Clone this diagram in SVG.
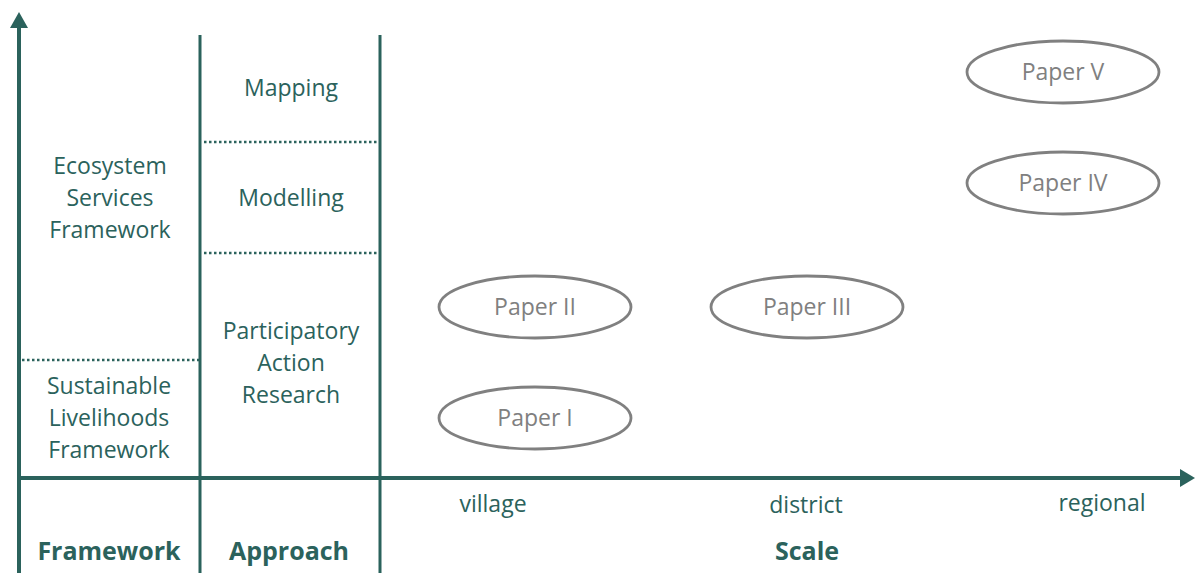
<svg xmlns="http://www.w3.org/2000/svg" width="1195" height="573" viewBox="0 0 1195 573">
<defs>
<style>
.t{font-family:"Open Sans","Liberation Sans",sans-serif;font-size:23px;fill:#2b625c;text-anchor:middle}
.b{font-family:"Open Sans","Liberation Sans",sans-serif;font-size:25px;font-weight:bold;fill:#2b625c;text-anchor:middle}
.p{font-family:"Open Sans","Liberation Sans",sans-serif;font-size:23px;fill:#808080;text-anchor:middle}
.e{fill:none;stroke:#808080;stroke-width:2.8}
.ax{stroke:#2b625c;stroke-width:4;fill:none}
.v{stroke:#2b625c;stroke-width:3;fill:none}
.d{stroke:#2b625c;stroke-width:2.5;stroke-dasharray:2.5 2.5;fill:none}
</style>
</defs>
<rect width="1195" height="573" fill="#ffffff"/>
<g id="connectors">
<line class="ax" x1="19" y1="26" x2="19" y2="573"/>
<polygon points="19,12 10,28 28,28" fill="#2b625c"/>
<line class="ax" x1="19" y1="478" x2="1182" y2="478"/>
<polygon points="1195,478 1180,469 1180,487" fill="#2b625c"/>
<line class="v" x1="200" y1="35" x2="200" y2="573"/>
<line class="v" x1="380" y1="35" x2="380" y2="573"/>
<line class="d" x1="204" y1="142" x2="380" y2="142"/>
<line class="d" x1="204" y1="253" x2="380" y2="253"/>
<line class="d" x1="22" y1="360" x2="200" y2="360"/>
</g>
<g id="framework">
<text class="t" x="110" y="174">Ecosystem</text>
<text class="t" x="110" y="206">Services</text>
<text class="t" x="110" y="238">Framework</text>
<text class="t" x="109" y="394">Sustainable</text>
<text class="t" x="109" y="426">Livelihoods</text>
<text class="t" x="109" y="458">Framework</text>
<text class="b" x="109" y="560">Framework</text>
</g>
<g id="approach">
<text class="t" x="291" y="96">Mapping</text>
<text class="t" x="291" y="206">Modelling</text>
<text class="t" x="291" y="339">Participatory</text>
<text class="t" x="291" y="371">Action</text>
<text class="t" x="291" y="403">Research</text>
<text class="b" x="289" y="560">Approach</text>
</g>
<g id="scale">
<text class="t" x="493" y="512">village</text>
<text class="t" x="806" y="513">district</text>
<text class="t" x="1102" y="511">regional</text>
<text class="b" x="807" y="560">Scale</text>
</g>
<g id="paper5"><ellipse class="e" cx="1063" cy="72" rx="96" ry="31"/><text class="p" x="1063" y="80">Paper V</text></g>
<g id="paper4"><ellipse class="e" cx="1063" cy="183" rx="96" ry="31"/><text class="p" x="1063" y="191">Paper IV</text></g>
<g id="paper2"><ellipse class="e" cx="535" cy="307" rx="96" ry="31"/><text class="p" x="535" y="315">Paper II</text></g>
<g id="paper3"><ellipse class="e" cx="807" cy="307" rx="96" ry="31"/><text class="p" x="807" y="315">Paper III</text></g>
<g id="paper1"><ellipse class="e" cx="535" cy="418" rx="96" ry="31"/><text class="p" x="535" y="426">Paper I</text></g>
</svg>
